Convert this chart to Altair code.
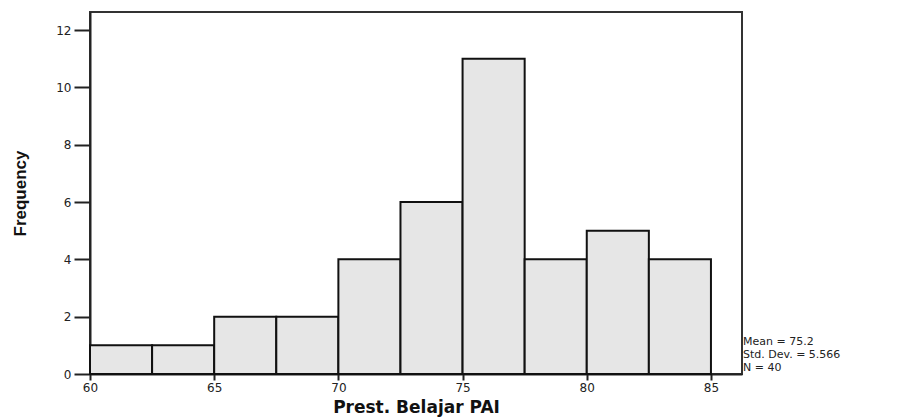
import altair as alt
import pandas as pd

bin_start = [60, 62.5, 65, 67.5, 70, 72.5, 75, 77.5, 80, 82.5]
bin_end = [62.5, 65, 67.5, 70, 72.5, 75, 77.5, 80, 82.5, 85]
counts = [1, 1, 2, 2, 4, 6, 11, 4, 5, 4]
x_ticks = [60, 65, 70, 75, 80, 85]
y_ticks = [0, 2, 4, 6, 8, 10, 12]
stats_lines = ["Mean = 75.2", "Std. Dev. = 5.566", "N = 40"]

df = pd.DataFrame({"start": bin_start, "end": bin_end, "count": counts})

x_scale = alt.Scale(domain=[60, 86.25], nice=False, zero=False)
y_scale = alt.Scale(domain=[0, 12.63], nice=False)

bars = alt.Chart(df).mark_rect(fill="#e6e6e6", stroke="#111111", strokeWidth=2).encode(
    x=alt.X("start:Q", scale=x_scale,
            axis=alt.Axis(values=x_ticks, title="Prest. Belajar PAI", grid=False,
                          tickSize=6, tickWidth=2, tickColor="#222222",
                          domainColor="#222222", domainWidth=2,
                          labelFont="DejaVu Sans", labelFontSize=12, labelColor="#222222",
                          labelPadding=2, labelFlush=False,
                          titleFont="DejaVu Sans", titleFontSize=17, titleFontWeight="bold",
                          titleColor="#111111", titleX=326, titleY=38,
                          titleBaseline="alphabetic", titleAlign="center")),
    x2="end:Q",
    y=alt.Y("count:Q", scale=y_scale,
            axis=alt.Axis(values=y_ticks, title="Frequency", grid=False,
                          tickSize=16, tickWidth=2, tickColor="#222222",
                          domainColor="#222222", domainWidth=2,
                          labelFont="DejaVu Sans", labelFontSize=12, labelColor="#222222",
                          labelPadding=3,
                          titleFont="Liberation Sans", titleFontSize=17, titleFontWeight="bold",
                          titleColor="#111111", titleX=-70, titleY=181, titleAngle=270,
                          titleBaseline="middle", titleAlign="center")),
    y2=alt.datum(0),
)

stats = alt.Chart(pd.DataFrame({"t": ["\n".join(stats_lines)]})).mark_text(
    align="left", baseline="alphabetic", font="DejaVu Sans", fontSize=11,
    color="#222222", lineBreak="\n", lineHeight=13
).encode(x=alt.value(653), y=alt.value(333), text="t:N")

chart = alt.layer(bars, stats).properties(
    width=652, height=362,
    autosize=alt.AutoSizeParams(type="none"),
    padding={"left": 82, "top": 4, "right": 165, "bottom": 43},
).configure_view(stroke="#333333", strokeWidth=2)

chart.save("out.html", embed_options={"renderer": "svg", "actions": False})
